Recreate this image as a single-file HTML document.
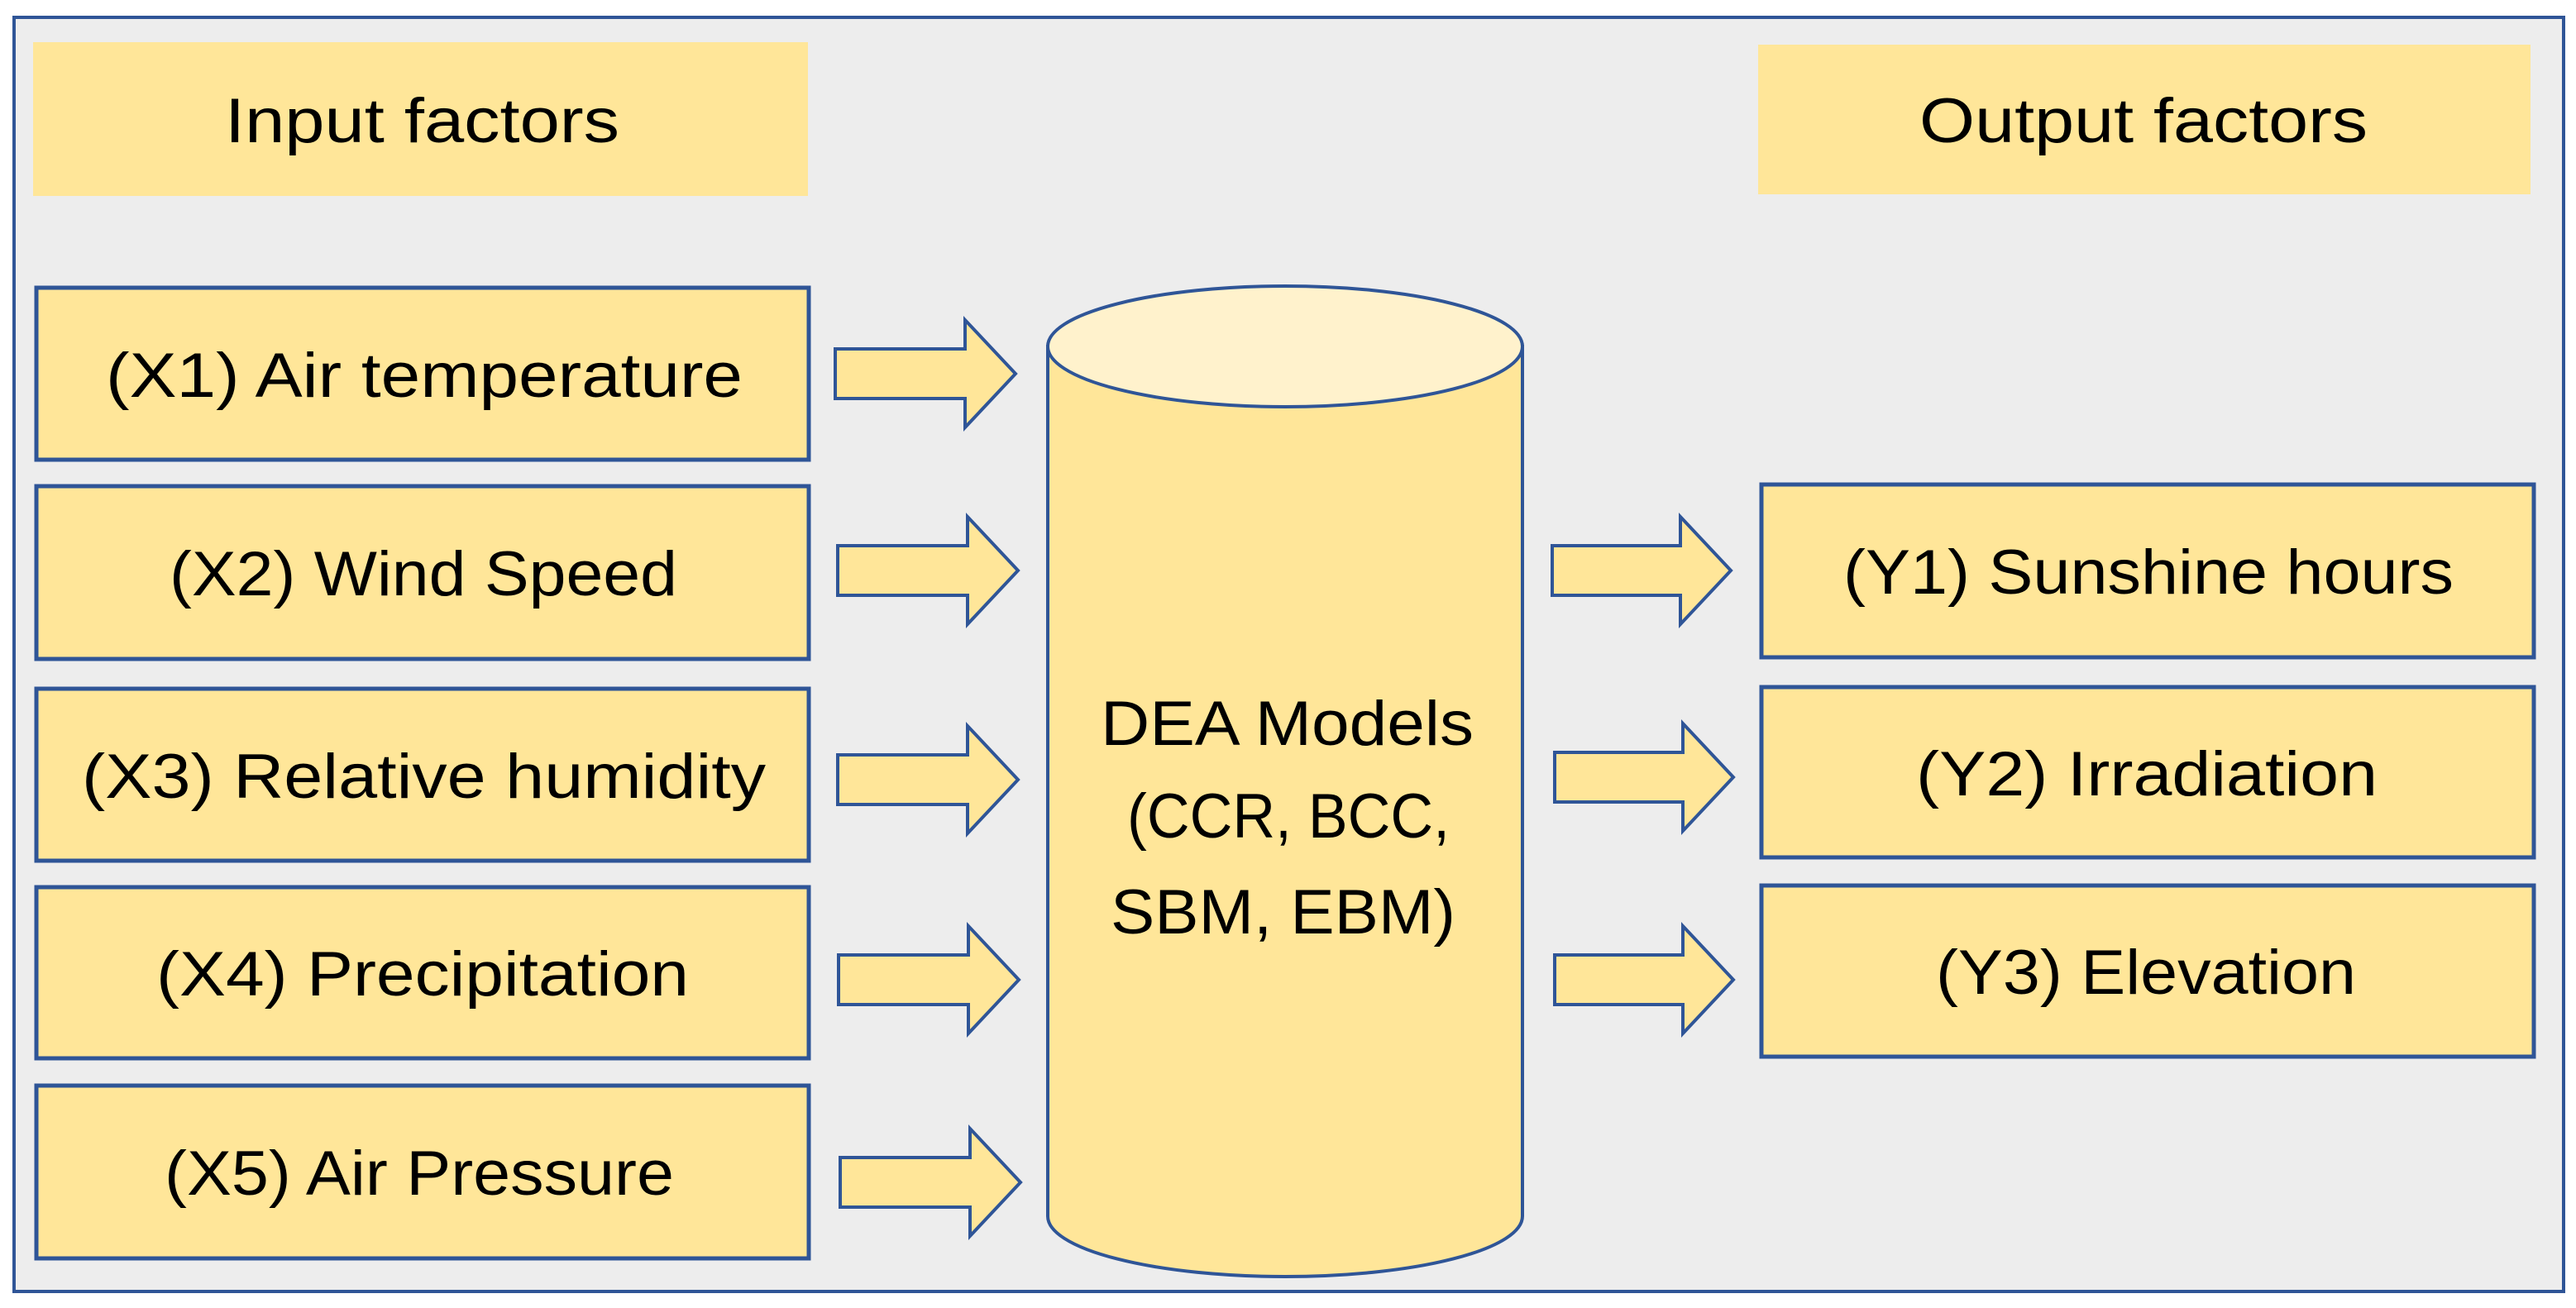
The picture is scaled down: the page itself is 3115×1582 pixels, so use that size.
<!DOCTYPE html>
<html><head><meta charset="utf-8"><style>html,body{margin:0;padding:0;background:#fff}svg{display:block}</style></head>
<body>
<svg width="3115" height="1582" viewBox="0 0 3115 1582" xmlns="http://www.w3.org/2000/svg" font-family="'Liberation Sans', sans-serif" font-size="76" fill="#000">
<rect x="17" y="21" width="3083" height="1541" fill="#ededed" stroke="#2f5597" stroke-width="4"/>
<rect x="40" y="51" width="937" height="186" fill="#ffe699"/>
<rect x="2126" y="54" width="934" height="181" fill="#ffe699"/>
<text x="272" y="172" textLength="477" lengthAdjust="spacingAndGlyphs">Input factors</text>
<text x="2321" y="172" textLength="542" lengthAdjust="spacingAndGlyphs">Output factors</text>
<g fill="#ffe699" stroke="#2f5597" stroke-width="5">
<rect x="44" y="348" width="934" height="208"/>
<rect x="44" y="588" width="934" height="209"/>
<rect x="44" y="833" width="934" height="208"/>
<rect x="44" y="1073" width="934" height="207"/>
<rect x="44" y="1313" width="934" height="209"/>
<rect x="2130" y="586" width="934" height="209"/>
<rect x="2130" y="831" width="934" height="206"/>
<rect x="2130" y="1071" width="934" height="207"/>
</g>
<text x="128" y="480" textLength="770" lengthAdjust="spacingAndGlyphs">(X1) Air temperature</text>
<text x="205" y="720" textLength="614" lengthAdjust="spacingAndGlyphs">(X2) Wind Speed</text>
<text x="99" y="965" textLength="827" lengthAdjust="spacingAndGlyphs">(X3) Relative humidity</text>
<text x="189" y="1204" textLength="644" lengthAdjust="spacingAndGlyphs">(X4) Precipitation</text>
<text x="199" y="1445" textLength="616" lengthAdjust="spacingAndGlyphs">(X5) Air Pressure</text>
<text x="2229" y="718" textLength="738" lengthAdjust="spacingAndGlyphs">(Y1) Sunshine hours</text>
<text x="2317" y="962" textLength="558" lengthAdjust="spacingAndGlyphs">(Y2) Irradiation</text>
<text x="2341" y="1202" textLength="508" lengthAdjust="spacingAndGlyphs">(Y3) Elevation</text>
<g fill="#ffe699" stroke="#2f5597" stroke-width="4" stroke-linejoin="miter">
<path d="M1010,422 H1167 V387 L1228,452 L1167,517 V482 H1010 Z"/>
<path d="M1013,660 H1170 V625 L1231,690 L1170,755 V720 H1013 Z"/>
<path d="M1013,913 H1170 V878 L1231,943 L1170,1008 V973 H1013 Z"/>
<path d="M1014,1155 H1171 V1120 L1232,1185 L1171,1250 V1215 H1014 Z"/>
<path d="M1016,1400 H1173 V1365 L1234,1430 L1173,1495 V1460 H1016 Z"/>
<path d="M1877,660 H2032 V625 L2093,690 L2032,755 V720 H1877 Z"/>
<path d="M1880,910 H2035 V875 L2096,940 L2035,1005 V970 H1880 Z"/>
<path d="M1880,1155 H2035 V1120 L2096,1185 L2035,1250 V1215 H1880 Z"/>
</g>
<path d="M1267,419 V1471 A287,73 0 0 0 1841,1471 V419 Z" fill="#ffe699" stroke="#2f5597" stroke-width="4"/>
<ellipse cx="1554" cy="419" rx="287" ry="73" fill="#fff2cc" stroke="#2f5597" stroke-width="4"/>
<text x="1331" y="901" textLength="451" lengthAdjust="spacingAndGlyphs">DEA Models</text>
<text x="1363" y="1013" textLength="390" lengthAdjust="spacingAndGlyphs">(CCR, BCC,</text>
<text x="1343" y="1129" textLength="417" lengthAdjust="spacingAndGlyphs">SBM, EBM)</text>
</svg>
</body></html>
